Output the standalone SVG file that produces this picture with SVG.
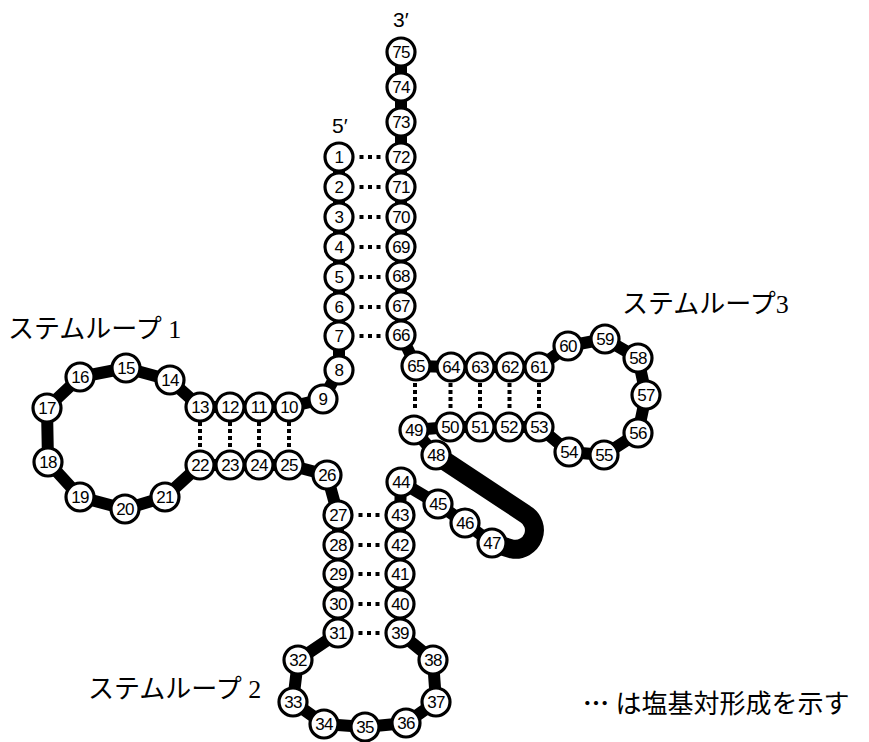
<svg xmlns="http://www.w3.org/2000/svg" width="869" height="742" viewBox="0 0 869 742">
<style>
.bb{stroke:#000;stroke-width:12;fill:none;stroke-linejoin:round;stroke-linecap:round}
.u{stroke:#000;stroke-width:19;fill:none;stroke-linecap:round}
.n circle{fill:#fff;stroke:#000;stroke-width:3.2}
.n text{font-family:'Liberation Sans',Arial,sans-serif;font-size:17px;letter-spacing:-0.6px;text-anchor:middle;fill:#000}
.bp{stroke:#000;stroke-width:4;fill:none}
.h{stroke-dasharray:4 4.5}
.v{stroke-dasharray:4 3}
.lbl{font-family:'Liberation Serif','Noto Sans CJK JP',serif;font-size:26px;fill:#000}
.dots{font-family:'Noto Sans CJK JP',sans-serif;font-weight:bold}
.end{font-family:'Liberation Sans',Arial,sans-serif;font-size:21px;fill:#000}
</style>
<rect width="869" height="742" fill="#fff"/>
<g id="connectors">
<polyline class="bb" points="339,157 339,187 339,217 339,247 339,277 339,307 339,336 339,370 323,399 289,407 259,407 230,407 200,407 170,380 126,368 80,377 47,408 48,462 80,497 125,509 165,497 200,465 230,465 259,465 289,465 327,475 338,515 338,545 338,574 338,604 338,633 298,660 293,702 324,724 365,727 406,723 436,702 433,660 400,633 400,604 400,574 400,545 400,515 401,482 438,504 465,523 492,543"/>
<path class="u" d="M436,455 L525.5,514.2 A19,19 0 0 1 512,549 L492,543"/>
<polyline class="bb" points="436,455 414,430 450,427 480,427 509,427 539,427 569,452 604,455 638,433 646,395 638,358 605,339 568,346 539,367 510,367 480,367 451,367 416,366 401,335 401,306 401,276 401,247 401,217 401,187 401,157 401,122 401,87 401,52"/>
<g class="bp h">
<line x1="359.5" y1="157" x2="380.5" y2="157"/>
<line x1="359.5" y1="187" x2="380.5" y2="187"/>
<line x1="359.5" y1="217" x2="380.5" y2="217"/>
<line x1="359.5" y1="247" x2="380.5" y2="247"/>
<line x1="359.5" y1="277" x2="380.5" y2="277"/>
<line x1="359.5" y1="307" x2="380.5" y2="307"/>
<line x1="359.5" y1="336" x2="380.5" y2="336"/>
<line x1="358.5" y1="515" x2="379.5" y2="515"/>
<line x1="358.5" y1="545" x2="379.5" y2="545"/>
<line x1="358.5" y1="574" x2="379.5" y2="574"/>
<line x1="358.5" y1="604" x2="379.5" y2="604"/>
<line x1="358.5" y1="633" x2="379.5" y2="633"/>
</g>
<g class="bp v">
<line x1="200" y1="422" x2="200" y2="447"/>
<line x1="230" y1="422" x2="230" y2="447"/>
<line x1="259" y1="422" x2="259" y2="447"/>
<line x1="289" y1="422" x2="289" y2="447"/>
<line x1="415" y1="383" x2="415" y2="408"/>
<line x1="450.5" y1="383" x2="450.5" y2="408"/>
<line x1="480" y1="383" x2="480" y2="408"/>
<line x1="509.5" y1="383" x2="509.5" y2="408"/>
<line x1="539" y1="383" x2="539" y2="408"/>
</g>
</g>
<g id="n1" class="n"><circle cx="339" cy="157" r="14"/><text x="339" y="163">1</text></g>
<g id="n2" class="n"><circle cx="339" cy="187" r="14"/><text x="339" y="193">2</text></g>
<g id="n3" class="n"><circle cx="339" cy="217" r="14"/><text x="339" y="223">3</text></g>
<g id="n4" class="n"><circle cx="339" cy="247" r="14"/><text x="339" y="253">4</text></g>
<g id="n5" class="n"><circle cx="339" cy="277" r="14"/><text x="339" y="283">5</text></g>
<g id="n6" class="n"><circle cx="339" cy="307" r="14"/><text x="339" y="313">6</text></g>
<g id="n7" class="n"><circle cx="339" cy="336" r="14"/><text x="339" y="342">7</text></g>
<g id="n8" class="n"><circle cx="339" cy="370" r="14"/><text x="339" y="376">8</text></g>
<g id="n9" class="n"><circle cx="323" cy="399" r="14"/><text x="323" y="405">9</text></g>
<g id="n10" class="n"><circle cx="289" cy="407" r="14"/><text x="289" y="413">10</text></g>
<g id="n11" class="n"><circle cx="259" cy="407" r="14"/><text x="259" y="413">11</text></g>
<g id="n12" class="n"><circle cx="230" cy="407" r="14"/><text x="230" y="413">12</text></g>
<g id="n13" class="n"><circle cx="200" cy="407" r="14"/><text x="200" y="413">13</text></g>
<g id="n14" class="n"><circle cx="170" cy="380" r="14"/><text x="170" y="386">14</text></g>
<g id="n15" class="n"><circle cx="126" cy="368" r="14"/><text x="126" y="374">15</text></g>
<g id="n16" class="n"><circle cx="80" cy="377" r="14"/><text x="80" y="383">16</text></g>
<g id="n17" class="n"><circle cx="47" cy="408" r="14"/><text x="47" y="414">17</text></g>
<g id="n18" class="n"><circle cx="48" cy="462" r="14"/><text x="48" y="468">18</text></g>
<g id="n19" class="n"><circle cx="80" cy="497" r="14"/><text x="80" y="503">19</text></g>
<g id="n20" class="n"><circle cx="125" cy="509" r="14"/><text x="125" y="515">20</text></g>
<g id="n21" class="n"><circle cx="165" cy="497" r="14"/><text x="165" y="503">21</text></g>
<g id="n22" class="n"><circle cx="200" cy="465" r="14"/><text x="200" y="471">22</text></g>
<g id="n23" class="n"><circle cx="230" cy="465" r="14"/><text x="230" y="471">23</text></g>
<g id="n24" class="n"><circle cx="259" cy="465" r="14"/><text x="259" y="471">24</text></g>
<g id="n25" class="n"><circle cx="289" cy="465" r="14"/><text x="289" y="471">25</text></g>
<g id="n26" class="n"><circle cx="327" cy="475" r="14"/><text x="327" y="481">26</text></g>
<g id="n27" class="n"><circle cx="338" cy="515" r="14"/><text x="338" y="521">27</text></g>
<g id="n28" class="n"><circle cx="338" cy="545" r="14"/><text x="338" y="551">28</text></g>
<g id="n29" class="n"><circle cx="338" cy="574" r="14"/><text x="338" y="580">29</text></g>
<g id="n30" class="n"><circle cx="338" cy="604" r="14"/><text x="338" y="610">30</text></g>
<g id="n31" class="n"><circle cx="338" cy="633" r="14"/><text x="338" y="639">31</text></g>
<g id="n32" class="n"><circle cx="298" cy="660" r="14"/><text x="298" y="666">32</text></g>
<g id="n33" class="n"><circle cx="293" cy="702" r="14"/><text x="293" y="708">33</text></g>
<g id="n34" class="n"><circle cx="324" cy="724" r="14"/><text x="324" y="730">34</text></g>
<g id="n35" class="n"><circle cx="365" cy="727" r="14"/><text x="365" y="733">35</text></g>
<g id="n36" class="n"><circle cx="406" cy="723" r="14"/><text x="406" y="729">36</text></g>
<g id="n37" class="n"><circle cx="436" cy="702" r="14"/><text x="436" y="708">37</text></g>
<g id="n38" class="n"><circle cx="433" cy="660" r="14"/><text x="433" y="666">38</text></g>
<g id="n39" class="n"><circle cx="400" cy="633" r="14"/><text x="400" y="639">39</text></g>
<g id="n40" class="n"><circle cx="400" cy="604" r="14"/><text x="400" y="610">40</text></g>
<g id="n41" class="n"><circle cx="400" cy="574" r="14"/><text x="400" y="580">41</text></g>
<g id="n42" class="n"><circle cx="400" cy="545" r="14"/><text x="400" y="551">42</text></g>
<g id="n43" class="n"><circle cx="400" cy="515" r="14"/><text x="400" y="521">43</text></g>
<g id="n44" class="n"><circle cx="401" cy="482" r="14"/><text x="401" y="488">44</text></g>
<g id="n45" class="n"><circle cx="438" cy="504" r="14"/><text x="438" y="510">45</text></g>
<g id="n46" class="n"><circle cx="465" cy="523" r="14"/><text x="465" y="529">46</text></g>
<g id="n47" class="n"><circle cx="492" cy="543" r="14"/><text x="492" y="549">47</text></g>
<g id="n48" class="n"><circle cx="436" cy="455" r="14"/><text x="436" y="461">48</text></g>
<g id="n49" class="n"><circle cx="414" cy="430" r="14"/><text x="414" y="436">49</text></g>
<g id="n50" class="n"><circle cx="450" cy="427" r="14"/><text x="450" y="433">50</text></g>
<g id="n51" class="n"><circle cx="480" cy="427" r="14"/><text x="480" y="433">51</text></g>
<g id="n52" class="n"><circle cx="509" cy="427" r="14"/><text x="509" y="433">52</text></g>
<g id="n53" class="n"><circle cx="539" cy="427" r="14"/><text x="539" y="433">53</text></g>
<g id="n54" class="n"><circle cx="569" cy="452" r="14"/><text x="569" y="458">54</text></g>
<g id="n55" class="n"><circle cx="604" cy="455" r="14"/><text x="604" y="461">55</text></g>
<g id="n56" class="n"><circle cx="638" cy="433" r="14"/><text x="638" y="439">56</text></g>
<g id="n57" class="n"><circle cx="646" cy="395" r="14"/><text x="646" y="401">57</text></g>
<g id="n58" class="n"><circle cx="638" cy="358" r="14"/><text x="638" y="364">58</text></g>
<g id="n59" class="n"><circle cx="605" cy="339" r="14"/><text x="605" y="345">59</text></g>
<g id="n60" class="n"><circle cx="568" cy="346" r="14"/><text x="568" y="352">60</text></g>
<g id="n61" class="n"><circle cx="539" cy="367" r="14"/><text x="539" y="373">61</text></g>
<g id="n62" class="n"><circle cx="510" cy="367" r="14"/><text x="510" y="373">62</text></g>
<g id="n63" class="n"><circle cx="480" cy="367" r="14"/><text x="480" y="373">63</text></g>
<g id="n64" class="n"><circle cx="451" cy="367" r="14"/><text x="451" y="373">64</text></g>
<g id="n65" class="n"><circle cx="416" cy="366" r="14"/><text x="416" y="372">65</text></g>
<g id="n66" class="n"><circle cx="401" cy="335" r="14"/><text x="401" y="341">66</text></g>
<g id="n67" class="n"><circle cx="401" cy="306" r="14"/><text x="401" y="312">67</text></g>
<g id="n68" class="n"><circle cx="401" cy="276" r="14"/><text x="401" y="282">68</text></g>
<g id="n69" class="n"><circle cx="401" cy="247" r="14"/><text x="401" y="253">69</text></g>
<g id="n70" class="n"><circle cx="401" cy="217" r="14"/><text x="401" y="223">70</text></g>
<g id="n71" class="n"><circle cx="401" cy="187" r="14"/><text x="401" y="193">71</text></g>
<g id="n72" class="n"><circle cx="401" cy="157" r="14"/><text x="401" y="163">72</text></g>
<g id="n73" class="n"><circle cx="401" cy="122" r="14"/><text x="401" y="128">73</text></g>
<g id="n74" class="n"><circle cx="401" cy="87" r="14"/><text x="401" y="93">74</text></g>
<g id="n75" class="n"><circle cx="401" cy="52" r="14"/><text x="401" y="58">75</text></g>
<g id="labels">
<text class="end" x="393" y="27">3′</text>
<text class="end" x="332" y="133">5′</text>
<text class="lbl" x="8" y="338">ステムループ 1</text>
<text class="lbl" x="622" y="313">ステムループ3</text>
<text class="lbl" x="88" y="698">ステムループ 2</text>
<text class="lbl" x="583" y="713"><tspan class="dots">…</tspan> は塩基対形成を示す</text>
</g>
</svg>
